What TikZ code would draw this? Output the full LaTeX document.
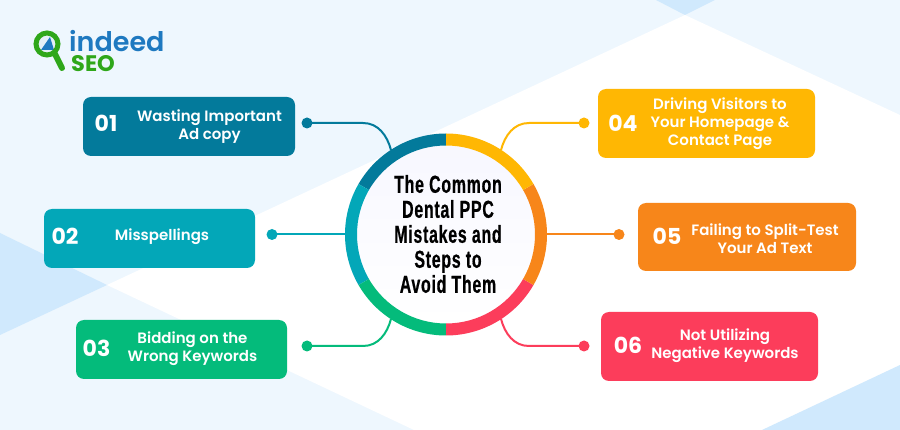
\documentclass[tikz,border=0pt]{standalone}
\usepackage{fontspec}
\setmainfont{Poppins}[BoldFont=Poppins SemiBold]
\newfontfamily\numfont{Poppins}[BoldFont=Poppins Bold]
\newfontfamily\titlefont[FakeStretch=0.65,LetterSpace=3,FakeBold=0.6]{Liberation Sans Bold}
\newfontfamily\logofont{Poppins SemiBold}
\definecolor{bglight}{HTML}{EEF7FE}
\definecolor{bgmid}{HTML}{D0E9FD}
\definecolor{cA}{HTML}{037A9B}
\definecolor{cB}{HTML}{03A7B8}
\definecolor{cC}{HTML}{04BB7B}
\definecolor{cD}{HTML}{FFB703}
\definecolor{cE}{HTML}{F7861A}
\definecolor{cF}{HTML}{FC3D5B}
\definecolor{logogreen}{HTML}{2FA71A}
\definecolor{logoblue}{HTML}{1E79C0}
\tikzset{
  x=1pt,y=1pt,
  card/.style={rounded corners=8pt,minimum width=#1,inner sep=0pt,outer sep=0pt},
  numtext/.style={text=white,font=\fontsize{22}{22}\numfont\bfseries,inner sep=0pt},
  cardtext/.style={text=white,font=\fontsize{15}{18}\selectfont\bfseries,align=center,inner sep=0pt},
  dotmark/.style={circle,fill=#1,minimum size=11pt,inner sep=0pt,outer sep=0pt},
  link/.style={draw=#1,line width=2pt}
}
\newcommand{\ringseg}[3]{\fill[#3] ($(hubc)+(#1:101pt)$) arc[start angle=#1,end angle=#2,radius=101pt] -- ($(hubc)+(#2:89pt)$) arc[start angle=#2,end angle=#1,radius=89pt] -- cycle;}
\usetikzlibrary{calc}
\begin{document}
\begin{tikzpicture}
\useasboundingbox (0,0) rectangle (900,-430);
% background
\fill[bglight] (0,0) rectangle (900,-430);
\fill[white] (685,-15) -- (900,-115) -- (900,-430) -- (414,-430) -- (107,-285) -- cycle;
\fill[bgmid] (0,-233) -- (107,-285) -- (0,-335) -- cycle;
\fill[bgmid] (656,0) -- (685,-15) -- (715,0) -- cycle;
\fill[bgmid] (762,-430) -- (900,-365) -- (900,-430) -- cycle;
% logo
\draw[logogreen,line width=6pt,line cap=round] (55,-54) -- (62,-68);
\fill[white!70!logoblue!40] (47,-44) circle (11);
\fill[logoblue] (50,-37) -- (54,-50) -- (41,-50) -- cycle;
\draw[logogreen,line width=5pt] (47,-44) circle (11);
\node[inner sep=0pt,anchor=base west,text=logoblue,font=\fontsize{27}{27}\logofont] (logoa) at (69,-52) {indeed};
\node[inner sep=0pt,anchor=base west,text=logogreen,font=\fontsize{22.5}{22.5}\numfont\bfseries] (logob) at (71,-72) {SEO};
% hub centre
\coordinate (hubc) at (446,-234.5);
% connector anchors
\coordinate (ra) at (391,-150);
\coordinate (rb) at (345,-234.5);
\coordinate (rc) at (391,-319);
\coordinate (rd) at (501,-150);
\coordinate (re) at (547,-234.5);
\coordinate (rf) at (501,-319);
% cards
\node[card=212pt,minimum height=59pt,fill=cA] (boxa) at (189,-126.5) {};
\node[card=211pt,minimum height=59pt,fill=cB] (boxb) at (149.5,-238.5) {};
\node[card=211pt,minimum height=59pt,fill=cC] (boxc) at (181.5,-349.5) {};
\node[card=217pt,minimum height=69pt,fill=cD] (boxd) at (706.5,-123.5) {};
\node[card=218pt,minimum height=68pt,fill=cE] (boxe) at (747,-237) {};
\node[card=217pt,minimum height=69pt,fill=cF] (boxf) at (709.5,-346.5) {};
% numbers
\node[numtext] (na) at (106,-123) {01};
\node[numtext] (nb) at (65,-236) {02};
\node[numtext] (nc) at (96.5,-348) {03};
\node[numtext] (nd) at (623,-123) {04};
\node[numtext] (ne) at (667,-236) {05};
\node[numtext] (nf) at (628,-345) {06};
% labels
\node[cardtext] (ta) at (209.5,-127) {Wasting Important\\Ad copy};
\node[cardtext] (tb) at (162,-237) {Misspellings};
\node[cardtext] (tc) at (192.5,-349) {Bidding on the\\Wrong Keywords};
\node[cardtext] (td) at (720,-124) {Driving Visitors to\\Your Homepage \&\\Contact Page};
\node[cardtext] (te) at (765,-239) {Failing to Split-Test\\Your Ad Text};
\node[cardtext] (tf) at (725,-346) {Not Utilizing\\Negative Keywords};
% dots
\node[dotmark=cA] (da) at (307,-123) {};
\node[dotmark=cB] (db) at (272,-234.5) {};
\node[dotmark=cC] (dc) at (307,-346) {};
\node[dotmark=cD] (dd) at (584,-123) {};
\node[dotmark=cE] (de) at (619,-234.5) {};
\node[dotmark=cF] (df) at (584,-346) {};
% connectors
\draw[link=cA] (da.center) -- (363,-123) to[out=0,in=105] (ra);
\draw[link=cB] (db.center) -- (rb);
\draw[link=cC] (dc.center) -- (363,-346) to[out=0,in=-105] (rc);
\draw[link=cD] (dd.center) -- (529,-123) to[out=180,in=75] (rd);
\draw[link=cE] (de.center) -- (re);
\draw[link=cF] (df.center) -- (529,-346) to[out=180,in=-75] (rf);
% hub
\node[circle,minimum size=178pt,inner sep=0pt,top color=black!7!blue!3!white,bottom color=white] (hub) at (hubc) {};
\node[text=black,align=center,inner sep=0pt,font=\fontsize{24.5}{25}\titlefont] (title) at (448,-234) {The Common\\Dental PPC\\Mistakes and\\Steps to\\Avoid Them};
% ring
\ringseg{90}{150}{cA}
\ringseg{150}{210}{cB}
\ringseg{210}{270}{cC}
\ringseg{270}{330}{cF}
\ringseg{330}{390}{cE}
\ringseg{30}{90}{cD}
\end{tikzpicture}
\end{document}
